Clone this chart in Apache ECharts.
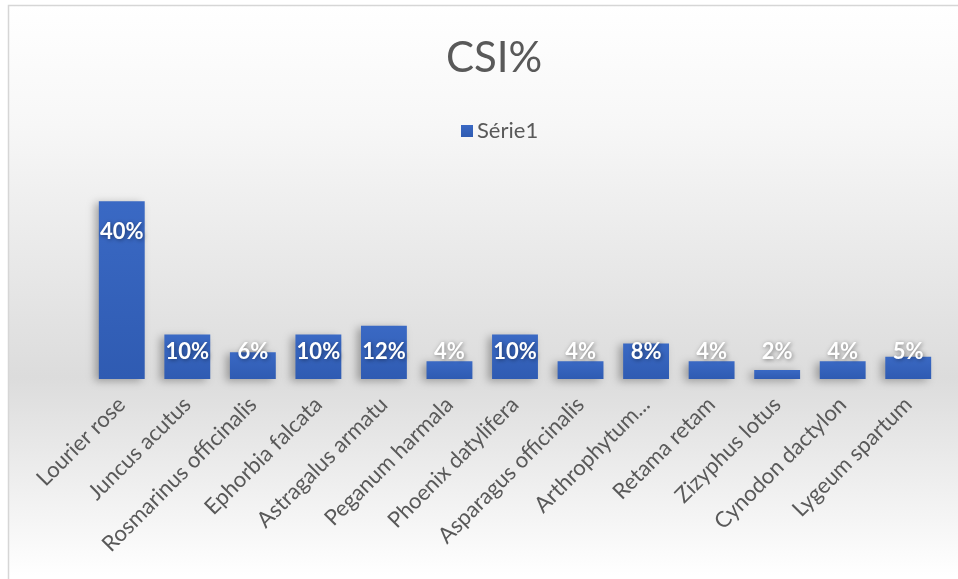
<!DOCTYPE html>
<html>
<head>
<meta charset="utf-8">
<script src="https://cdn.jsdelivr.net/npm/echarts@6/dist/echarts.min.js"></script>
<style>
  html, body { margin: 0; padding: 0; background: #ffffff; }
  #chart { width: 958px; height: 579px; }
</style>
</head>
<body>
<div id="chart"></div>
<script>
// Plant species and their CSI share (%)
const categories = [
  'Lourier rose', 'Juncus acutus', 'Rosmarinus officinalis', 'Ephorbia falcata',
  'Astragalus armatu', 'Peganum harmala', 'Phoenix datylifera', 'Asparagus officinalis',
  'Arthrophytum...', 'Retama retam', 'Zizyphus lotus', 'Cynodon dactylon', 'Lygeum spartum'
];
const csiValues = [40, 10, 6, 10, 12, 4, 10, 4, 8, 4, 2, 4, 5];
const seriesName = 'Série1';
const chartTitle = 'CSI%';

const FONT = 'Lato, "Open Sans", sans-serif';
const TEXT_GREY = '#595959';

const chart = echarts.init(document.getElementById('chart'), null, { renderer: 'canvas' });

const barData = csiValues.map((v, i) => {
  const item = { value: v };
  if (i === 0) {
    item.label = { position: 'insideTop', distance: 20 };
  }
  return item;
});

chart.setOption({
  backgroundColor: '#ffffff',
  animation: false,
  graphic: [{
    type: 'rect',
    z: -10,
    silent: true,
    shape: { x: 8.5, y: 5.5, width: 980, height: 600 },
    style: {
      fill: new echarts.graphic.LinearGradient(0, 0, 0, 1, [
        { offset: 0, color: '#ffffff' },
        { offset: 0.2, color: '#f7f7f7' },
        { offset: 0.62, color: '#dcdcdc' },
        { offset: 0.95, color: '#ffffff' },
        { offset: 1, color: '#ffffff' }
      ]),
      stroke: '#d6d6d6',
      lineWidth: 1.5
    }
  }],
  title: {
    text: chartTitle,
    left: 441,
    top: 32,
    textStyle: { fontFamily: FONT, fontSize: 42, fontWeight: 'normal', color: TEXT_GREY }
  },
  legend: {
    data: [seriesName],
    left: 456,
    top: 115,
    itemWidth: 12,
    itemHeight: 12,
    itemGap: 4,
    icon: 'rect',
    textStyle: { fontFamily: FONT, fontSize: 22, color: TEXT_GREY, padding: [0, 0, 0, -1] }
  },
  grid: { left: 89, right: 17, top: 179, bottom: 200, containLabel: false },
  xAxis: {
    type: 'category',
    data: categories,
    axisLine: { show: false },
    axisTick: { show: false },
    axisLabel: {
      interval: 0,
      rotate: 45,
      margin: 22,
      fontFamily: FONT,
      fontSize: 22,
      color: TEXT_GREY
    }
  },
  yAxis: {
    type: 'value',
    min: 0,
    max: 45,
    show: false,
    splitLine: { show: false }
  },
  series: [{
    name: seriesName,
    type: 'bar',
    data: barData,
    barCategoryGap: '30%',
    itemStyle: {
      color: new echarts.graphic.LinearGradient(0, 0, 0, 1, [
        { offset: 0, color: '#3a69c4' },
        { offset: 1, color: '#2f5bb2' }
      ]),
      shadowColor: 'rgba(0,0,0,0.3)',
      shadowBlur: 8,
      shadowOffsetX: -4,
      shadowOffsetY: 2
    },
    label: {
      show: true,
      position: 'insideBottom',
      distance: 16,
      formatter: p => p.value + '%',
      fontFamily: FONT,
      fontSize: 22,
      fontWeight: 'bold',
      color: '#ffffff',
      textShadowColor: 'rgba(0,0,0,0.45)',
      textShadowBlur: 4,
      textShadowOffsetX: 1,
      textShadowOffsetY: 1
    }
  }]
});
</script>
</body>
</html>
